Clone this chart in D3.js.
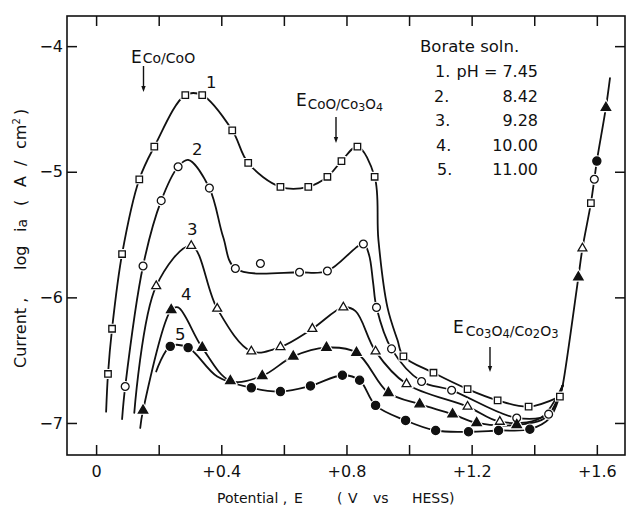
<!DOCTYPE html>
<html>
<head>
<meta charset="utf-8">
<script src="https://cdn.jsdelivr.net/npm/d3@7"></script>
<style>
  body { margin: 0; background: #fff; }
  svg { display: block; }
  text { font-family: "DejaVu Sans", sans-serif; fill: #111; }
</style>
</head>
<body>
<svg id="chart" width="629" height="511"></svg>
<script>
// Anodic polarization of cobalt in borate solutions of different pH.
// Each point: [potential (V vs HESS), log ia (A/cm2), kind]
//   kind 0 = curve passes here (no symbol), 1 = symbol on curve, 2 = symbol only
const curve1 = [
  [0.032, -6.91, 0], [0.038, -6.61, 1], [0.051, -6.25, 1], [0.083, -5.655, 1],
  [0.138, -5.06, 1], [0.186, -4.80, 1], [0.285, -4.39, 1], [0.339, -4.39, 1],
  [0.435, -4.67, 1], [0.486, -4.93, 1], [0.589, -5.12, 1], [0.678, -5.12, 1],
  [0.739, -5.04, 1], [0.784, -4.915, 1], [0.835, -4.80, 1], [0.890, -5.04, 1],
  [0.902, -5.54, 0], [0.931, -6.08, 0], [0.963, -6.34, 0], [0.982, -6.47, 1],
  [1.078, -6.60, 1], [1.187, -6.73, 1], [1.283, -6.82, 1], [1.382, -6.87, 1],
  [1.482, -6.79, 1], [1.581, -5.25, 1]
];
const curve2 = [
  [0.083, -6.97, 0], [0.093, -6.71, 1], [0.150, -5.75, 1], [0.208, -5.23, 1],
  [0.262, -4.96, 1], [0.294, -4.905, 0], [0.362, -5.13, 1], [0.406, -5.52, 0],
  [0.445, -5.77, 1], [0.525, -5.73, 2], [0.650, -5.80, 1], [0.739, -5.79, 1],
  [0.854, -5.575, 1], [0.872, -5.66, 0], [0.885, -5.88, 0], [0.896, -6.08, 1],
  [0.944, -6.41, 1], [1.040, -6.67, 1], [1.136, -6.74, 1], [1.344, -6.96, 1],
  [1.446, -6.93, 1], [1.491, -6.70, 0], [1.592, -5.06, 1]
];
const curve3 = [
  [0.122, -6.92, 0], [0.192, -5.91, 1], [0.304, -5.59, 1], [0.387, -6.09, 1],
  [0.496, -6.43, 1], [0.589, -6.395, 1], [0.691, -6.25, 1], [0.790, -6.08, 1],
  [0.829, -6.11, 0], [0.893, -6.43, 1], [0.992, -6.69, 1], [1.187, -6.87, 1],
  [1.290, -6.99, 1], [1.42, -6.96, 0], [1.491, -6.70, 0], [1.554, -5.61, 1]
];
const curve4 = [
  [0.141, -7.04, 0], [0.150, -6.90, 1], [0.240, -6.10, 1], [0.262, -6.08, 0],
  [0.339, -6.40, 1], [0.429, -6.665, 1], [0.531, -6.625, 1], [0.630, -6.47, 1],
  [0.736, -6.40, 1], [0.832, -6.44, 1], [0.934, -6.76, 1], [1.034, -6.85, 1],
  [1.139, -6.93, 1], [1.216, -7.00, 1], [1.344, -7.015, 1], [1.44, -6.95, 0],
  [1.491, -6.70, 0], [1.541, -5.84, 1], [1.629, -4.49, 1], [1.642, -4.255, 0]
];
const curve5 = [
  [0.192, -6.59, 0], [0.237, -6.39, 1], [0.294, -6.40, 1], [0.387, -6.63, 0],
  [0.496, -6.72, 1], [0.589, -6.75, 1], [0.685, -6.705, 1], [0.787, -6.62, 1],
  [0.842, -6.66, 1], [0.893, -6.86, 1], [0.989, -6.98, 1], [1.085, -7.06, 1],
  [1.190, -7.07, 1], [1.286, -7.06, 1], [1.386, -7.05, 1], [1.45, -6.96, 0],
  [1.491, -6.70, 0], [1.600, -4.915, 1]
];

const curveNames = ["1", "2", "3", "4", "5"];
const phValues = ["7.45", "8.42", "9.28", "10.00", "11.00"];
const xTicks = [0, 0.2, 0.4, 0.6, 0.8, 1.0, 1.2, 1.4, 1.6];
const xTickLabels = ["0", "", "+0.4", "", "+0.8", "", "+1.2", "", "+1.6"];
const yTicks = [-4, -5, -6, -7];
const yTickLabels = ["\u22124", "\u22125", "\u22126", "\u22127"];

// Above this potential all five curves run on one common transpassive branch.
const branchStart = 1.48;
const branchJoin = 1.491;

const curves = [curve1, curve2, curve3, curve4, curve5];

// ---- layout ----
const plot = { left: 67, right: 625, top: 16, bottom: 455 };

const svg = d3.select("#chart");
const x = d3.scaleLinear().domain([-0.093, 1.69]).range([plot.left, plot.right]);
const y = d3.scaleLinear().domain([-7.255, -3.76]).range([plot.bottom, plot.top]);

// ---- frame and ticks ----
const tickLen = 10;
const axB = svg.append("g").attr("transform", `translate(0,${plot.bottom})`)
  .call(d3.axisBottom(x).tickValues(xTicks).tickSizeInner(-tickLen).tickSizeOuter(0)
    .tickPadding(11).tickFormat((d, i) => xTickLabels[i]));
const axT = svg.append("g").attr("transform", `translate(0,${plot.top})`)
  .call(d3.axisTop(x).tickValues(xTicks).tickSizeInner(-tickLen).tickSizeOuter(0).tickFormat(""));
const axL = svg.append("g").attr("transform", `translate(${plot.left},0)`)
  .call(d3.axisLeft(y).tickValues(yTicks).tickSizeInner(-tickLen).tickSizeOuter(0)
    .tickPadding(4).tickFormat((d, i) => yTickLabels[i]));
const axR = svg.append("g").attr("transform", `translate(${plot.right},0)`)
  .call(d3.axisRight(y).tickValues(yTicks).tickSizeInner(-tickLen).tickSizeOuter(0).tickFormat(""));

[axB, axT, axL, axR].forEach(g => {
  g.select(".domain").remove();
  g.selectAll(".tick line").attr("stroke", "#111").attr("stroke-width", 1.5);
  g.selectAll(".tick text").attr("font-size", 16).attr("font-family", "DejaVu Sans").attr("fill", "#111");
});

svg.append("rect")
  .attr("x", plot.left).attr("y", plot.top)
  .attr("width", plot.right - plot.left).attr("height", plot.bottom - plot.top)
  .attr("fill", "none").attr("stroke", "#111").attr("stroke-width", 1.6);

// ---- curves ----
const line = d3.line()
  .x(d => x(d[0])).y(d => y(d[1]))
  .curve(d3.curveCatmullRom.alpha(0.5));

const gLines = svg.append("g")
  .attr("fill", "none").attr("stroke", "#111").attr("stroke-width", 1.8)
  .attr("stroke-linejoin", "round").attr("stroke-linecap", "round");

curves.forEach(c => {
  gLines.append("path").attr("d", line(c.filter(d => d[2] !== 2 && d[0] <= branchJoin)));
});

// common rising branch, built from every curve's points beyond the junction
const branchMap = new Map();
curves.forEach(c => c.forEach(d => {
  if (d[0] >= branchStart && d[2] !== 2) branchMap.set(d[0], d);
}));
const branch = Array.from(branchMap.values()).sort((a, b) => a[0] - b[0]);
gLines.append("path").attr("d", line(branch));

// ---- symbols ----
const symbolTypes = [d3.symbolSquare, d3.symbolCircle, d3.symbolTriangle, d3.symbolTriangle, d3.symbolCircle];
const symbolSizes = [42, 48, 34, 38, 52];
const symbolFilled = [false, false, false, true, true];

const gHalo = svg.append("g");
const gSym = svg.append("g");
curves.forEach((c, ci) => {
  const path = d3.symbol().type(symbolTypes[ci]).size(symbolSizes[ci])();
  c.filter(d => d[2] > 0).forEach(d => {
    gHalo.append("path").attr("d", path)
      .attr("transform", `translate(${x(d[0])},${y(d[1])})`)
      .attr("fill", "#fff").attr("stroke", "#fff").attr("stroke-width", 3.5);
    gSym.append("path").attr("d", path)
      .attr("transform", `translate(${x(d[0])},${y(d[1])})`)
      .attr("fill", symbolFilled[ci] ? "#111" : "#fff")
      .attr("stroke", "#111").attr("stroke-width", 1.3);
  });
});

// ---- curve numbers ----
const curveLabelAt = [[0.368, -4.33], [0.323, -4.87], [0.307, -5.50], [0.288, -6.02], [0.269, -6.34]];
curveNames.forEach((n, i) => {
  svg.append("text")
    .attr("x", x(curveLabelAt[i][0])).attr("y", y(curveLabelAt[i][1]))
    .attr("text-anchor", "middle").attr("font-size", 16.5).text(n);
});

// ---- legend ----
const lg = svg.append("g");
lg.append("text").attr("x", 420).attr("y", 52).attr("font-size", 16.5).text("Borate soln.");
phValues.forEach((v, i) => {
  const by = 77 + i * 24.6;
  lg.append("text").attr("x", i === 0 ? 435 : 433 + i).attr("y", by)
    .attr("font-size", 16).text(curveNames[i] + ".");
  lg.append("text").attr("x", 538).attr("y", by).attr("text-anchor", "end")
    .attr("font-size", 16).text(i === 0 ? "pH = " + v : v);
});

// ---- equilibrium potential markers ----
function arrow(xp, y0, y1) {
  svg.append("line").attr("x1", xp).attr("x2", xp).attr("y1", y0).attr("y2", y1 - 4)
    .attr("stroke", "#111").attr("stroke-width", 1.4);
  svg.append("path").attr("d", `M${xp - 2.2},${y1 - 6} L${xp + 2.2},${y1 - 6} L${xp},${y1} Z`)
    .attr("fill", "#111");
}
function potentialLabel(xp, yp, parts) {
  const t = svg.append("text").attr("x", xp).attr("y", yp);
  t.append("tspan").attr("font-size", 17).text("E");
  parts.forEach(p => {
    t.append("tspan").attr("font-size", p.s).attr("dy", p.dy).attr("dx", p.dx || 0).text(p.t);
  });
}
potentialLabel(131, 63, [{ t: "Co/CoO", s: 14, dy: 0, dx: 1 }]);
arrow(143.5, 66, 92);

potentialLabel(296, 106, [
  { t: "CoO/Co", s: 13.5, dy: 3, dx: 1 }, { t: "3", s: 11, dy: 2 },
  { t: "O", s: 13.5, dy: -2 }, { t: "4", s: 11, dy: 2 }
]);
arrow(336, 117, 143);

potentialLabel(453, 333, [
  { t: "Co", s: 14, dy: 3, dx: 2 }, { t: "3", s: 11.5, dy: 2 },
  { t: "O", s: 14, dy: -2 }, { t: "4", s: 11.5, dy: 2 }, { t: "/Co", s: 14, dy: -2 },
  { t: "2", s: 11.5, dy: 2 }, { t: "O", s: 14, dy: -2 }, { t: "3", s: 11.5, dy: 2 }
]);
arrow(490, 347, 372);

// ---- axis titles ----
const xt = svg.append("text").attr("y", 503).attr("font-size", 14);
xt.append("tspan").attr("x", 217).text("Potential ,");
xt.append("tspan").attr("x", 294).text("E");
xt.append("tspan").attr("x", 337).text("(");
xt.append("tspan").attr("x", 348).text("V");
xt.append("tspan").attr("x", 373).text("vs");
xt.append("tspan").attr("x", 412).text("HESS");
xt.append("tspan").attr("x", 449).text(")");

const yt = svg.append("text").attr("transform", "translate(26,368) rotate(-90)").attr("font-size", 16);
yt.append("tspan").attr("x", 0).text("Current ,");
yt.append("tspan").attr("x", 98).text("log");
yt.append("tspan").attr("x", 136).text("i");
yt.append("tspan").attr("font-size", 14).attr("dy", 1).text("a");
yt.append("tspan").attr("x", 162).attr("dy", -1).text("(");
yt.append("tspan").attr("x", 181).text("A");
yt.append("tspan").attr("x", 202).text("/");
yt.append("tspan").attr("x", 219).text("cm");
yt.append("tspan").attr("font-size", 10).attr("dy", -6).text("2");
yt.append("tspan").attr("x", 253).attr("dy", 6).text(")");
</script>
</body>
</html>
